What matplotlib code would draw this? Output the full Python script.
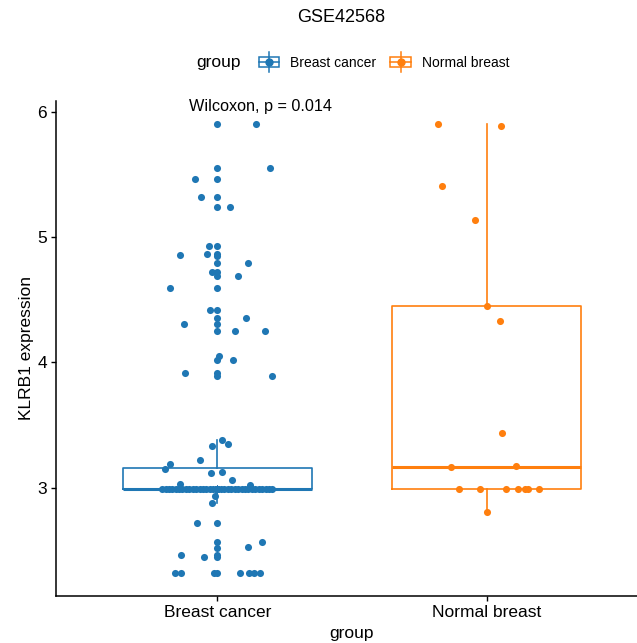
"""Box plot of KLRB1 expression in GSE42568, breast cancer vs normal breast."""

import matplotlib

matplotlib.use("Agg")
import matplotlib.pyplot as plt
from matplotlib.legend_handler import HandlerBase
from matplotlib.lines import Line2D
from matplotlib.patches import Rectangle

plt.rcParams["font.family"] = ["Liberation Sans", "DejaVu Sans"]

groups = ["Breast cancer", "Normal breast"]
colors = ["#1F77B4", "#FF7F0E"]

# breast cancer samples (value, jitter offset)
bc_values = [
    5.905, 5.905, 5.55, 5.55, 5.466, 5.466, 5.32, 5.32, 5.24, 5.24,
    4.926, 4.926, 4.854, 4.867, 4.867, 4.846, 4.793, 4.793, 4.72, 4.72,
    4.69, 4.69, 4.596, 4.596, 4.415, 4.415, 4.351, 4.351, 4.309, 4.309,
    4.253, 4.253, 4.253, 4.053, 4.02, 4.016, 3.91, 3.91, 3.888, 3.888,
    3.378, 3.351, 3.33, 3.223, 3.19, 3.144, 3.117, 3.125, 3.061, 3.024,
    3.018, 2.936, 2.878, 2.713, 2.713, 2.567, 2.567, 2.519, 2.524,
    2.465, 2.465, 2.444, 2.444,
    2.314, 2.314, 2.314, 2.314, 2.314, 2.314, 2.314, 2.314,
]
bc_jitter = [
    0.0, 0.142, 0.0, 0.196, -0.082, 0.0, -0.062, 0.0, 0.0, 0.047,
    -0.033, 0.0, -0.139, -0.037, 0.0, 0.0, 0.0, 0.112, -0.021, 0.0,
    0.0, 0.077, -0.176, 0.0, -0.029, 0.0, 0.0, 0.105, -0.125, 0.0,
    0.0, 0.064, 0.178, 0.006, 0.0, 0.059, -0.119, 0.0, 0.0, 0.202,
    0.016, 0.041, -0.021, -0.066, -0.176, -0.195, -0.025, 0.016, 0.053, -0.140,
    0.121, -0.009, -0.019, -0.077, 0.0, 0.0, 0.167, 0.0, 0.112,
    -0.134, 0.0, -0.051, 0.0,
    -0.159, -0.136, -0.013, 0.0, 0.084, 0.117, 0.136, 0.157,
]
# many cancer samples sit on the detection floor (most overlap at the centre)
bc_floor_value = 2.985
bc_floor_count = 109
bc_floor_jitter = [
    -0.205, -0.192, -0.180, -0.168, -0.155, -0.142, -0.130, -0.118,
    -0.104, -0.092, -0.080, -0.066, -0.054, -0.041, -0.029, -0.016,
    0.012, 0.026, 0.039, 0.051, 0.064, 0.077, 0.090, 0.102,
    0.115, 0.128, 0.141, 0.153, 0.166, 0.179, 0.192, 0.204,
]

nb_values = [5.905, 5.889, 5.41, 5.139, 4.452, 4.33, 3.433, 3.16, 3.168,
             2.986, 2.986, 2.986, 2.986, 2.986, 2.986, 2.986, 2.806]
nb_jitter = [-0.179, 0.055, -0.167, -0.044, 0.002, 0.050, 0.058, -0.133, 0.111,
             -0.101, -0.024, 0.071, 0.116, 0.143, 0.153, 0.194, 0.001]

p_label = "Wilcoxon, p = 0.014"
title = "GSE42568"


class BoxKey(HandlerBase):
    def create_artists(self, legend, orig_handle, xd, yd, w, h, fontsize, trans):
        c = orig_handle.get_color()
        x0, y0 = -xd, -yd
        box = Rectangle((x0, y0 + h * 0.22), w, h * 0.56, fill=False,
                        edgecolor=c, lw=1.1, transform=trans)
        v = Line2D([x0 + w / 2] * 2, [y0 - h * 0.05, y0 + h * 1.05], color=c,
                   lw=1.1, transform=trans)
        m = Line2D([x0, x0 + w], [y0 + h * 0.5] * 2, color=c, lw=1.1,
                   transform=trans)
        d = Line2D([x0 + w / 2], [y0 + h * 0.5], marker="o", ms=5, color=c,
                   lw=0, transform=trans)
        return [box, v, m, d]


fig = plt.figure(figsize=(6.37, 6.43), dpi=100)
ax = fig.add_axes([56 / 637, 1 - 596 / 643, 592 / 637, 495 / 643])

bc_all = bc_values + [bc_floor_value] * bc_floor_count
bc_floor_x = bc_floor_jitter + [0.0] * (bc_floor_count - len(bc_floor_jitter))
data = [bc_all, nb_values]

for i, (vals, col) in enumerate(zip(data, colors)):
    ax.boxplot([vals], positions=[i + 1], widths=0.7, whis=1.5, showfliers=False,
               patch_artist=False,
               boxprops=dict(color=col, lw=1.2),
               whiskerprops=dict(color=col, lw=1.2),
               capprops=dict(visible=False),
               medianprops=dict(color=col, lw=2.2))

ax.scatter([1 + j for j in bc_jitter], bc_values, s=26, color=colors[0],
           zorder=3, linewidths=0)
ax.scatter([1 + j for j in bc_floor_x], [bc_floor_value] * bc_floor_count, s=26,
           color=colors[0], zorder=3, linewidths=0)
ax.scatter([2 + j for j in nb_jitter], nb_values, s=26, color=colors[1],
           zorder=3, linewidths=0)

ax.text(0.893, 6.04, p_label, ha="left", va="center", fontsize=11.7)

ax.set_xlim(0.4, 2.6)
ax.set_ylim(2.134, 6.085)
ax.set_xticks([1, 2])
ax.set_xticklabels(groups, fontsize=12.5)
ax.set_yticks([3, 4, 5, 6])
ax.set_yticklabels(["3", "4", "5", "6"], fontsize=12.5)
ax.set_xlabel("group", fontsize=12.5, labelpad=4)
ax.set_ylabel("KLRB1 expression", fontsize=12.5, labelpad=2)
for s in ["top", "right"]:
    ax.spines[s].set_visible(False)
for s in ["left", "bottom"]:
    ax.spines[s].set_linewidth(1.1)
ax.tick_params(length=3.5, width=1.0, pad=3, colors="black")

fig.text(341 / 637, 1 - 18 / 643, title, ha="center", va="center", fontsize=13)
fig.text(196 / 637, 1 - 62 / 643, "group", ha="left", va="center", fontsize=12.5)
handles = [Line2D([], [], color=c) for c in colors]
fig.legend(handles, groups, handler_map={Line2D: BoxKey()}, ncol=2,
           loc="center left", bbox_to_anchor=(246 / 637, 1 - 62 / 643),
           frameon=False, fontsize=10, handlelength=1.5, handleheight=1.6,
           handletextpad=0.8, columnspacing=1.0)

fig.savefig("out.png", dpi=100)
